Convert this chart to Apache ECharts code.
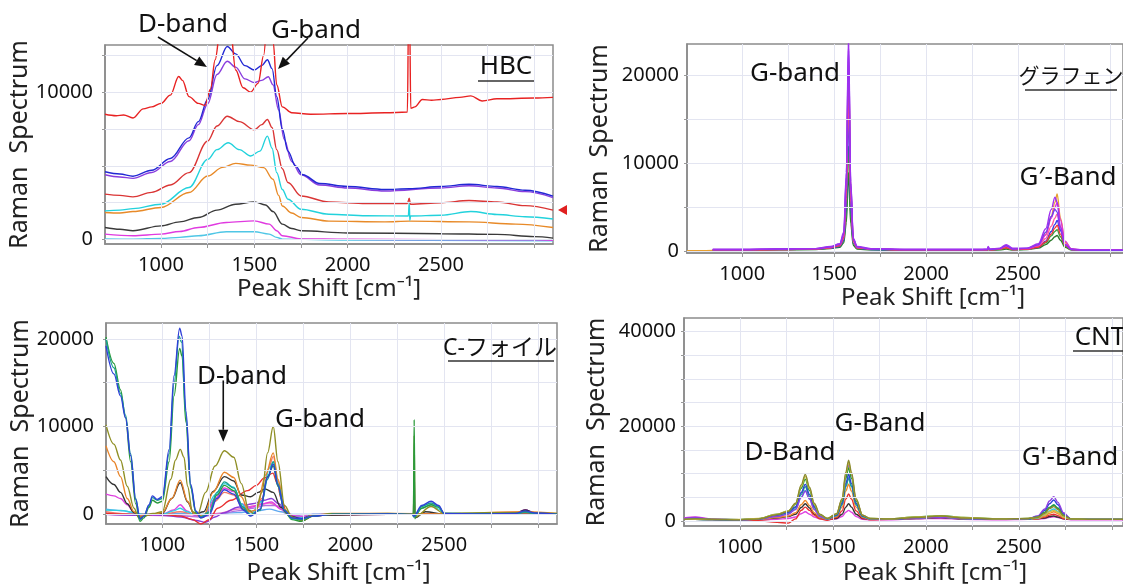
<!DOCTYPE html>
<html><head><meta charset="utf-8">
<script src="https://cdn.jsdelivr.net/npm/echarts@6.0.0/dist/echarts.min.js"></script>
<style>html,body{margin:0;padding:0;background:#fff}#c{width:1123px;height:586px}</style>
</head><body><div id="c"></div>
<script>
// ---------- tick labels ----------
const xLabelVals = [1000, 1500, 2000, 2500];
const xTickVals = [1000, 1250, 1500, 1750, 2000, 2250, 2500, 2750, 3000];
const hbcYLabels = [0, 10000];
const hbcYTicks = [0, 2500, 5000, 7500, 10000, 12500];
const grYLabels = [0, 10000, 20000];
const grYTicks = [0, 5000, 10000, 15000, 20000];
const cfYLabels = [0, 10000, 20000];
const cfYTicks = [0, 5000, 10000, 15000, 20000];
const cntYLabels = [0, 20000, 40000];
const cntYTicks = [0, 5000, 10000, 15000, 20000, 25000, 30000, 35000, 40000];

// ---------- HBC (x, y pairs) ----------
const hbcRed1 = [[700,8500],[760,8400],[800,8450],[850,8250],[905,8870],[950,9000],[1000,9240],[1050,9800],[1095,11060],[1115,10800],[1150,9700],[1200,9240],[1235,9100],[1265,10200],[1290,12200],[1320,14500],[1345,15500],[1370,14500],[1400,11500],[1440,10300],[1480,10000],[1520,10600],[1550,12500],[1575,16000],[1600,13500],[1620,10500],[1650,9000],[1700,8600],[1800,8500],[2000,8550],[2200,8600],[2320,8650],[2326,15000],[2332,15000],[2338,8900],[2360,9000],[2400,9500],[2450,9450],[2500,9500],[2600,9650],[2660,9750],[2720,9400],[2800,9550],[3000,9600],[3100,9650]];
const hbcBlue = [[700,4600],[780,4450],[850,4300],[950,4700],[1050,5500],[1150,6900],[1200,8000],[1250,9500],[1300,11800],[1355,13100],[1400,12600],[1450,11800],[1500,11500],[1540,11800],[1570,12200],[1595,11600],[1620,9700],[1650,7500],[1680,6000],[1720,5000],[1760,4400],[1850,3800],[2000,3600],[2200,3400],[2330,3450],[2500,3600],[2650,3750],[2800,3600],[2950,3350],[3100,2950]];
const hbcPurple = [[700,4400],[780,4250],[850,4150],[950,4550],[1050,5300],[1150,6700],[1200,7800],[1250,9200],[1300,11200],[1355,12100],[1400,11700],[1450,10900],[1500,10650],[1540,10800],[1575,11050],[1600,10500],[1630,8800],[1660,6800],[1700,5300],[1750,4400],[1850,3700],[2000,3500],[2200,3300],[2500,3500],[2650,3650],[2800,3500],[2950,3250],[3100,2850]];
const hbcRed2 = [[700,3080],[780,3000],[850,2900],[950,3200],[1050,3700],[1150,4540],[1250,6680],[1300,7700],[1355,8370],[1420,8000],[1500,7450],[1540,7800],[1570,8150],[1595,7600],[1620,6100],[1650,4800],[1680,3870],[1750,2960],[1900,2550],[2100,2450],[2320,2450],[2330,2800],[2336,2400],[2500,2500],[2650,2650],[2800,2550],[2950,2300],[3100,2000]];
const hbcCyan = [[700,1950],[780,2000],[850,2100],[1000,2400],[1150,3530],[1250,5440],[1300,6100],[1360,6570],[1420,6100],[1480,5670],[1530,6000],[1570,7020],[1595,6200],[1620,4540],[1650,3400],[1680,2740],[1750,2060],[1900,1720],[2100,1620],[2325,1600],[2330,2500],[2333,1300],[2337,1600],[2500,1650],[2660,1900],[2800,1700],[2950,1550],[3100,1400]];
const hbcOrange = [[700,1840],[780,1800],[850,1900],[1000,2180],[1150,3190],[1250,4310],[1330,4900],[1400,5170],[1480,5050],[1550,4880],[1600,4090],[1630,3000],[1650,2280],[1700,1800],[1750,1500],[1900,1250],[2200,1200],[2330,1250],[2650,1200],[2900,1050],[3100,820]];
const hbcBlack = [[700,820],[780,700],[850,600],[1000,930],[1100,1200],[1200,1500],[1300,2000],[1400,2400],[1500,2560],[1560,2350],[1600,1900],[1650,1050],[1700,750],[1750,600],[2000,450],[2500,400],[2800,350],[3000,200],[3100,100]];
const hbcMagenta = [[700,370],[850,260],[1000,370],[1100,550],[1200,820],[1350,1160],[1500,1270],[1580,1050],[1620,600],[1650,260],[1750,50],[2000,20],[2500,0],[3000,-20],[3100,-50]];
const hbcLtCyan = [[700,40],[850,30],[1000,80],[1100,150],[1200,260],[1350,530],[1500,530],[1580,370],[1620,150],[1650,30],[2000,-30],[3100,-80]];

// ---------- Graphene (shared x) ----------
const grX = [700,770,840,1000,1200,1400,1480,1530,1552,1566,1578,1590,1604,1625,1700,1900,2100,2300,2333,2337,2345,2400,2435,2470,2550,2610,2650,2680,2700,2712,2730,2755,2790,2850,3000,3300];
const grOrange = [100,100,150,200,250,300,450,700,1500,6800,20500,6800,1200,450,300,200,200,200,200,350,200,300,500,250,350,700,2000,4000,5600,6560,3800,1100,300,150,150,150];
const grDkGreen = [null,null,150,150,200,250,350,500,1000,3300,9000,3200,700,300,200,150,150,150,150,300,150,200,300,200,250,400,800,1300,1700,1840,1300,500,200,100,100,100];
const grGreen = [null,null,200,200,250,300,400,600,1200,4200,12000,4100,900,350,250,200,200,200,200,350,200,250,400,200,300,500,1000,1800,2300,2500,1700,600,200,150,150,150];
const grBlue = [null,null,200,200,250,300,400,600,1300,5200,15500,5000,1000,400,250,200,200,200,200,400,200,300,600,250,300,500,1200,2300,3100,3540,2400,800,250,150,150,150];
const grPink = [null,null,200,200,250,300,450,700,1500,6200,18500,6000,1100,450,300,200,200,200,200,350,200,300,500,250,300,600,1500,2900,3800,4300,2800,900,250,150,150,150];
const grRed = [null,null,200,200,250,300,450,700,1600,7200,21600,7000,1300,450,300,200,200,200,200,400,200,300,450,250,300,500,1100,2000,2700,3000,2000,700,250,150,150,150];
const grMagenta = [null,null,250,250,300,350,500,800,1800,8000,22800,7500,1400,500,300,250,250,250,250,450,250,350,600,300,350,700,1900,3800,5000,5600,3600,1200,300,200,200,200];
const grViolet = [null,null,250,250,300,350,550,850,2000,8500,23500,7800,1400,550,300,250,250,250,250,500,250,350,700,300,400,800,2200,4000,4800,4500,2500,800,250,150,150,150];
const grPurple = [null,null,250,250,300,350,600,900,2200,9000,24500,8000,1500,600,350,250,250,250,300,600,300,400,800,400,400,900,2600,4800,6200,5600,2800,800,300,200,200,200];

// ---------- C-foil (x, y pairs) ----------
const cfTeal = [[700,20000],[742,16700],[777,13800],[804,11300],[831,6900],[858,1800],[881,-600],[902,-200],[929,1000],[947,1900],[973,1600],[1000,1800],[1036,6900],[1062,14900],[1089,20300],[1102,19600],[1125,11300],[1151,3200],[1178,300],[1205,-300],[1250,300],[1290,2500],[1330,3700],[1380,3000],[1430,800],[1470,-100],[1520,500],[1560,4000],[1590,6000],[1615,3500],[1650,500],[1690,-500],[1740,-600],[1800,-200],[1900,0],[2200,50],[2330,0],[2338,-300],[2346,-200],[2380,900],[2430,1300],[2470,900],[2500,100],[2700,50],[2880,50],[2930,250],[2980,100],[3100,0]];
const cfBlue = [[700,19200],[742,16000],[777,13500],[804,11000],[831,6700],[858,1700],[881,-500],[902,-200],[929,1100],[947,2100],[973,1700],[1000,2000],[1036,7400],[1062,15800],[1092,21200],[1105,20300],[1125,11800],[1151,3400],[1178,400],[1205,-400],[1250,0],[1290,1800],[1330,2800],[1380,2300],[1430,500],[1470,-200],[1520,600],[1560,4200],[1590,5700],[1615,3300],[1650,400],[1690,-400],[1740,-500],[1800,-200],[1900,0],[2200,50],[2330,0],[2338,-200],[2380,1000],[2430,1500],[2470,1000],[2500,100],[2700,50],[2880,100],[2930,400],[2980,150],[3100,0]];
const cfGreen = [[700,20200],[742,17200],[777,14200],[804,11000],[831,6000],[858,1200],[881,-800],[902,-400],[929,800],[947,1600],[973,1300],[1000,1500],[1036,6000],[1062,13500],[1092,18900],[1105,18000],[1125,10500],[1151,3000],[1178,200],[1205,-400],[1250,200],[1290,2200],[1330,3300],[1380,2700],[1430,600],[1470,-100],[1520,500],[1560,4300],[1590,5500],[1615,3200],[1650,300],[1690,-600],[1740,-800],[1800,-200],[1900,50],[2200,50],[2336,0],[2340,10800],[2344,-500],[2348,0],[2380,700],[2430,1100],[2470,800],[2500,100],[2700,100],[2880,100],[2930,300],[2980,100],[3100,50]];
const cfCyan = [[700,500],[777,450],[849,200],[900,0],[1000,0],[1060,400],[1095,700],[1130,300],[1170,0],[1220,-100],[1280,2200],[1330,3500],[1380,3100],[1420,1200],[1470,0],[1530,1500],[1570,5300],[1592,6000],[1615,3200],[1650,300],[1690,-300],[1750,-400],[1800,0],[2200,0],[2336,0],[2340,2000],[2344,0],[2380,700],[2430,1100],[2470,600],[2500,0],[3100,0]];
const cfOlive = [[700,10200],[742,8000],[777,6200],[813,3200],[849,700],[875,-400],[900,-200],[950,100],[1000,300],[1045,4000],[1070,6200],[1095,7400],[1115,6500],[1134,3200],[1160,300],[1187,0],[1230,2500],[1280,5500],[1330,7250],[1380,6500],[1420,3500],[1460,500],[1490,0],[1530,2500],[1560,7000],[1590,10000],[1615,6000],[1650,1000],[1690,-300],[1740,-700],[1800,-200],[1900,0],[2200,100],[2336,0],[2340,9000],[2344,-300],[2430,900],[2500,100],[2930,200],[3100,100]];
const cfOrange = [[700,7800],[742,6000],[777,4300],[813,1800],[849,300],[880,-200],[950,0],[1000,200],[1050,1800],[1095,3900],[1134,1500],[1170,0],[1220,-200],[1270,2500],[1330,4800],[1380,4200],[1420,2000],[1460,300],[1500,500],[1550,4500],[1590,7000],[1615,4000],[1650,600],[1690,-400],[1740,-600],[1800,-100],[1900,100],[2200,100],[2500,50],[2930,300],[3100,100]];
const cfBlack = [[700,4300],[742,3400],[777,2500],[813,1200],[849,200],[880,-300],[950,0],[1000,100],[1050,1800],[1095,3600],[1134,1400],[1170,0],[1220,300],[1270,2600],[1330,4300],[1380,3800],[1420,2200],[1470,2000],[1510,2500],[1545,2900],[1590,2500],[1630,800],[1680,-200],[1740,-500],[1800,-100],[2200,0],[2336,0],[2340,5000],[2344,-400],[2400,300],[2500,0],[2880,100],[2930,500],[2980,200],[3100,0]];
const cfMagenta = [[700,2300],[742,2100],[777,1800],[813,1100],[849,200],[880,-100],[1000,0],[1060,500],[1095,1100],[1130,400],[1170,-100],[1220,-300],[1280,1800],[1330,3000],[1380,2600],[1420,1200],[1470,800],[1530,1200],[1580,1400],[1630,600],[1680,-100],[1740,-300],[1800,0],[2200,0],[2880,100],[2930,500],[2980,200],[3100,0]];
const cfRed = [[700,100],[850,0],[1000,0],[1100,-200],[1160,-600],[1205,-1100],[1250,-600],[1294,700],[1365,1600],[1454,2700],[1500,3300],[1543,4150],[1588,4700],[1612,3500],[1632,1800],[1660,300],[1700,-400],[1750,-700],[1800,-200],[1900,0],[2200,0],[2500,0],[2930,100],[3100,0]];
const cfPurple = [[700,0],[850,-100],[1000,-100],[1100,-300],[1180,-700],[1230,-900],[1280,-300],[1330,200],[1400,800],[1480,1200],[1540,1600],[1580,1800],[1620,1200],[1660,200],[1700,-300],[1750,-500],[1800,-100],[2200,0],[2880,100],[2930,500],[2980,200],[3100,0]];
const cfSalmon = [[700,300],[850,0],[1000,0],[1095,300],[1170,0],[1220,-200],[1280,1500],[1330,2500],[1380,2200],[1430,700],[1480,200],[1530,1800],[1565,5200],[1590,6600],[1615,3800],[1650,400],[1690,-400],[1740,-500],[1800,-100],[2200,0],[3100,0]];
const cfViolet = [[700,100],[1000,0],[1200,-300],[1300,0],[1400,400],[1480,700],[1550,1000],[1600,1000],[1640,500],[1680,0],[1750,-200],[1850,0],[3100,0]];
const cfPink = [[700,0],[1200,-200],[1300,100],[1400,600],[1500,1000],[1570,1300],[1620,900],[1660,100],[1720,-300],[1850,0],[3100,0]];
const cfLtBlue = [[700,600],[800,400],[870,0],[1100,100],[1200,0],[1400,200],[1500,400],[1570,600],[1630,300],[1680,0],[3100,0]];

// ---------- CNT (shared x) ----------
const cntX = [700,760,850,1000,1100,1200,1260,1300,1330,1352,1375,1400,1430,1470,1520,1550,1570,1585,1600,1625,1660,1700,1800,1950,2080,2200,2400,2550,2600,2640,2665,2688,2710,2740,2780,2900,3100,3400];
const cntMagenta = [600,800,400,200,200,300,500,800,1500,1900,1400,800,400,200,400,900,1800,2200,1800,900,300,200,200,400,500,300,200,300,350,500,750,850,700,400,200,200,200,200];
const cntBlack = [300,300,250,200,300,600,900,1400,2800,3600,2700,1400,600,300,500,1400,2900,3600,2900,1400,500,300,300,500,700,400,300,300,400,600,900,1000,800,400,300,300,300,300];
const cntRed = [300,300,200,100,0,-300,-500,400,2200,2900,2200,1200,400,100,700,2100,4600,5700,4600,2100,600,200,300,600,900,500,300,300,400,800,1200,1400,1100,500,300,300,300,300];
const cntOrange = [400,500,300,200,300,700,1000,1700,3400,4300,3200,1700,700,300,900,2900,6300,7750,6300,2900,800,300,300,600,800,500,300,300,500,1000,1600,1900,1500,700,300,300,300,300];
const cntCyan = [300,300,250,200,350,1000,1500,2500,5000,6400,4600,2500,900,350,1100,3400,7300,9100,7300,3400,900,350,300,600,800,500,300,350,600,1300,2100,2500,2000,900,350,300,300,300];
const cntTeal = [300,300,250,250,400,1100,1700,2800,5600,7200,5200,2800,1000,400,1100,3400,7300,9000,7300,3400,900,400,300,700,900,500,300,400,800,1700,2800,3400,2700,1200,400,300,300,300];
const cntBlue = [300,350,300,250,400,1200,1800,3000,6000,7700,5600,3000,1100,400,1200,3700,7900,9800,7900,3700,1000,400,300,700,900,600,300,400,900,2200,3600,4400,3400,1500,400,300,300,300];
const cntPurple = [500,700,300,200,350,900,1400,2400,4900,6300,4600,2400,900,400,1400,4400,9600,11900,9600,4400,1200,400,300,600,800,500,300,400,1000,2500,4200,5100,3900,1700,400,300,300,300];
const cntGreen = [300,350,300,250,450,1400,2100,3500,6900,8800,6400,3400,1300,500,1400,4200,9000,11200,9000,4200,1100,500,400,800,1100,700,400,500,800,1800,2800,3300,2600,1200,400,300,300,300];
const cntGold = [300,300,300,300,500,1400,2100,3600,7300,9400,6800,3500,1300,500,1500,4500,9900,12400,9900,4500,1200,500,400,800,1000,700,400,500,700,1300,1900,2200,1800,800,400,300,300,300];
const cntOlive = [300,400,300,200,400,1300,2000,3700,7600,9800,7100,3700,1400,500,1500,4700,10300,12800,10300,4700,1200,500,400,700,1000,600,400,500,700,1600,2600,3000,2400,1100,400,300,300,300];

// ---------- build ----------
const FONT = '"Noto Sans", "Noto Sans CJK JP", sans-serif';
const zip = (xs, ys) => xs.map((x, k) => [x, ys[k]]);
const plain = v => String(v);

const gridDefs = [
  {left:105, top:45, width:448, height:199},
  {left:687, top:44, width:436, height:209},
  {left:106, top:323, width:451, height:210},
  {left:684, top:318, width:439, height:213}
];
const xMax = [3100, 3070, 3100, 3060];
const yMin = [-300, -150, -1100, -1100];
const yMax = [13200, 23600, 21800, 42900];
const yLabs = [hbcYLabels, grYLabels, cfYLabels, cntYLabels];
const yTicks = [hbcYTicks, grYTicks, cfYTicks, cntYTicks];
const xNameGap = [33, 33, 37, 35];
const xNamePadLeft = [0, 56, 14, 63];
const yNameGap = [52, 75, 52, 75];
const yLabMargin = [12, 8, 12, 8];

const xAxes = gridDefs.map((g, i) => ({
  type:'value', gridIndex:i, min:700, max:xMax[i],
  name:'Peak Shift [cm\u207B\u00B9]', nameLocation:'middle', nameGap:xNameGap[i],
  nameTextStyle:{fontSize:24, color:'#222', fontFamily:FONT, padding:[0,0,0,xNamePadLeft[i]]},
  axisLine:{show:true, onZero:false, lineStyle:{color:'#8a8a8a', width:1.5}},
  axisTick:{show:true, customValues:xTickVals, length:4, lineStyle:{color:'#999'}},
  axisLabel:{customValues:xLabelVals, formatter:plain, fontSize:20, color:'#111', margin:11, fontFamily:FONT},
  splitLine:{show:false}
}));
const yAxes = gridDefs.map((g, i) => ({
  type:'value', gridIndex:i, min:yMin[i], max:yMax[i],
  name:'Raman  Spectrum', nameLocation:'middle', nameRotate:90, nameGap:yNameGap[i],
  nameTextStyle:{fontSize:25, color:'#222', fontFamily:FONT},
  axisLine:{show:true, onZero:false, lineStyle:{color:'#8a8a8a', width:1.5}},
  axisTick:{show:true, customValues:yTicks[i], length:3, lineStyle:{color:'#999'}},
  axisLabel:{customValues:yLabs[i], formatter:plain, fontSize:20, color:'#111', margin:yLabMargin[i], fontFamily:FONT},
  splitLine:{show:false}
}));

// grid lines drawn as markLines on the axes' own scales
const gridSeries = gridDefs.map((g, i) => ({
  type:'line', xAxisIndex:i, yAxisIndex:i, data:[], silent:true, z:1,
  markLine:{silent:true, symbol:'none', animation:false, label:{show:false},
    lineStyle:{color:'#e3e5f1', width:1, type:'solid'},
    data: xTickVals.map(v => ({xAxis:v})).concat(yTicks[i].map(v => ({yAxis:v})))}
}));

function mk(i, name, color, data, w) {
  return {type:'line', name, xAxisIndex:i, yAxisIndex:i, data, symbol:'none', z:3,
    smooth:0.35, smoothMonotone:'x', clip:true, silent:true,
    lineStyle:{color, width:w || 1.4}};
}
const series = gridSeries.concat([
  mk(0,'ltcyan','#4fc6e6',hbcLtCyan), mk(0,'magenta','#e03ae0',hbcMagenta), mk(0,'black','#3a3a3a',hbcBlack),
  mk(0,'orange','#e88a28',hbcOrange), mk(0,'cyan','#22d2dc',hbcCyan), mk(0,'red2','#da3535',hbcRed2),
  mk(0,'purple','#8a3ede',hbcPurple), mk(0,'blue','#2228d4',hbcBlue), mk(0,'red1','#e82222',hbcRed1),

  mk(1,'orange','#e8a030',zip(grX,grOrange)), mk(1,'dkgreen','#2a7a2a',zip(grX,grDkGreen)),
  mk(1,'green','#3aa040',zip(grX,grGreen)), mk(1,'blue','#3838e8',zip(grX,grBlue)),
  mk(1,'pink','#ff5fa0',zip(grX,grPink)), mk(1,'red','#f03838',zip(grX,grRed)),
  mk(1,'magenta','#e030d8',zip(grX,grMagenta)), mk(1,'violet','#7040f0',zip(grX,grViolet)),
  mk(1,'purple','#a030f0',zip(grX,grPurple)),

  mk(2,'ltblue','#60a8f0',cfLtBlue), mk(2,'pink','#f070c0',cfPink), mk(2,'violet','#b070e0',cfViolet),
  mk(2,'purple','#8a3ad8',cfPurple), mk(2,'salmon','#f07a6a',cfSalmon), mk(2,'red','#e83030',cfRed),
  mk(2,'magenta','#e040e0',cfMagenta), mk(2,'cyan','#30d0e0',cfCyan), mk(2,'black','#333333',cfBlack),
  mk(2,'orange','#e8842a',cfOrange), mk(2,'olive','#8f8f25',cfOlive), mk(2,'green','#2a9a3a',cfGreen),
  mk(2,'teal','#1aa090',cfTeal), mk(2,'blue','#3040d8',cfBlue),

  mk(3,'magenta','#e040e0',zip(cntX,cntMagenta)), mk(3,'black','#333333',zip(cntX,cntBlack)),
  mk(3,'red','#e83030',zip(cntX,cntRed)), mk(3,'orange','#f08a30',zip(cntX,cntOrange)),
  mk(3,'cyan','#30c8e0',zip(cntX,cntCyan)), mk(3,'teal','#20a090',zip(cntX,cntTeal)),
  mk(3,'blue','#3040d8',zip(cntX,cntBlue)), mk(3,'purple','#9040e0',zip(cntX,cntPurple)),
  mk(3,'green','#2a9a3a',zip(cntX,cntGreen)), mk(3,'gold','#d0c040',zip(cntX,cntGold)),
  mk(3,'olive','#8a8a30',zip(cntX,cntOlive))
]);

const chart = echarts.init(document.getElementById('c'), null, {renderer:'canvas'});
chart.setOption({
  backgroundColor:'#fff', animation:false,
  grid: gridDefs.map(g => Object.assign({show:true, borderColor:'#8c8c8c', borderWidth:1.5, backgroundColor:'rgba(0,0,0,0)'}, g)),
  xAxis: xAxes, yAxis: yAxes, series
});

// ---------- annotations ----------
// arrows in data units: [grid, [x1,y1] tail, [x2,y2] head]
const arrows = [
  [0, [984, 13745], [1246, 11710]],
  [0, [1787, 13677], [1627, 11573]],
  [2, [1324, 15256], [1324, 8277]]
];
const g = [];
function txt(x, y, s, size) {
  g.push({type:'text', x, y, z:100, style:{text:s, fill:'#111', font:size + 'px ' + FONT, align:'center', verticalAlign:'middle'}});
}
function uline(x1, x2, y) {
  g.push({type:'line', z:100, shape:{x1, y1:y, x2, y2:y}, style:{stroke:'#333', lineWidth:1.6}});
}
arrows.forEach(a => {
  const p1 = chart.convertToPixel({gridIndex:a[0]}, a[1]);
  const p2 = chart.convertToPixel({gridIndex:a[0]}, a[2]);
  const dx = p2[0]-p1[0], dy = p2[1]-p1[1], L = Math.hypot(dx, dy);
  const ux = dx/L, uy = dy/L, hl = 12, hw = 5;
  const bx = p2[0]-ux*hl, by = p2[1]-uy*hl;
  g.push({type:'line', z:100, shape:{x1:p1[0], y1:p1[1], x2:bx, y2:by}, style:{stroke:'#111', lineWidth:1.6}});
  g.push({type:'polygon', z:100, shape:{points:[[p2[0],p2[1]],[bx-uy*hw, by+ux*hw],[bx+uy*hw, by-ux*hw]]}, style:{fill:'#111'}});
});
// red marker triangle next to HBC red trace end
const last = hbcRed2[hbcRed2.length-1];
const tp = chart.convertToPixel({gridIndex:0}, last);
g.push({type:'polygon', z:100, shape:{points:[[tp[0]+5, tp[1]],[tp[0]+14, tp[1]-5],[tp[0]+14, tp[1]+5]]}, style:{fill:'#e02020'}});

txt(183, 25, 'D-band', 26); txt(316, 31, 'G-band', 26);
txt(506, 67, 'HBC', 26); uline(478, 534, 81);
txt(795, 74, 'G-band', 26);
txt(1071, 77, 'グラフェン', 21); uline(1025, 1117, 90);
txt(1068, 178, 'G\u2032-Band', 26);
txt(242, 377, 'D-band', 26); txt(320, 420, 'G-band', 26);
txt(500, 348, 'C-フォイル', 23); uline(448, 554, 361);
txt(790, 453, 'D-Band', 26); txt(880, 424, 'G-Band', 26);
txt(1070, 458, "G'-Band", 26);
txt(1100, 338, 'CNT', 26); uline(1073, 1130, 351);
chart.setOption({graphic: g});
</script></body></html>
